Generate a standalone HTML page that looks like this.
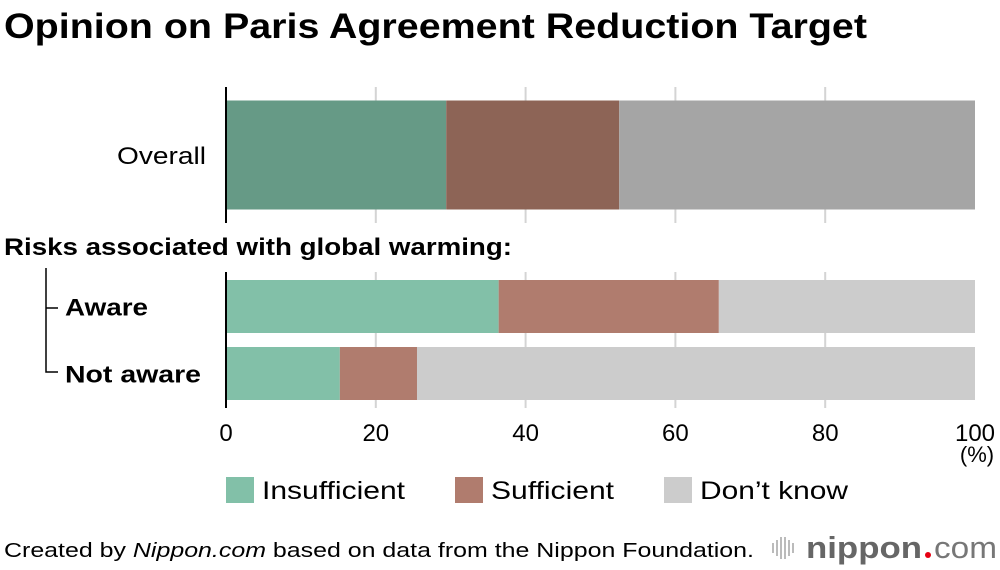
<!DOCTYPE html>
<html><head><meta charset="utf-8"><style>
body{margin:0;background:#fff;}
svg{display:block;font-family:"Liberation Sans",Arial,sans-serif;}
</style></head><body>
<svg id="chart" width="1000" height="570" viewBox="0 0 1000 570">
<text x="4" y="38" font-size="35" font-weight="bold" fill="#000" textLength="863" lengthAdjust="spacingAndGlyphs">Opinion on Paris Agreement Reduction Target</text>
<g id="grid"></g>
<g id="bars"></g>
<g id="labels"></g>
<text x="4" y="255" font-size="24" font-weight="bold" textLength="508" lengthAdjust="spacingAndGlyphs">Risks associated with global warming:</text>
<path d="M46 268 V372 H58 M46 308 H58" stroke="#000" stroke-width="1.5" fill="none"/>
<text x="977" y="462" font-size="22" text-anchor="middle">(%)</text>
<g>
<rect x="226" y="477" width="28" height="26" fill="#82c0a8"/>
<text x="262" y="499" font-size="25" textLength="143" lengthAdjust="spacingAndGlyphs">Insufficient</text>
<rect x="455" y="477" width="28" height="26" fill="#b07c6e"/>
<text x="491" y="499" font-size="25" textLength="123" lengthAdjust="spacingAndGlyphs">Sufficient</text>
<rect x="664" y="477" width="28" height="26" fill="#cccccc"/>
<text x="700" y="499" font-size="25" textLength="148" lengthAdjust="spacingAndGlyphs">Don’t know</text>
</g>
<text x="4" y="557" font-size="20" textLength="750" lengthAdjust="spacingAndGlyphs">Created by <tspan font-style="italic">Nippon.com</tspan> based on data from the Nippon Foundation.</text>
<g>
<g stroke="#bbb" stroke-width="2">
<line x1="773" y1="543" x2="773" y2="553"/><line x1="777" y1="540" x2="777" y2="556"/><line x1="781" y1="537" x2="781" y2="559"/><line x1="785" y1="537" x2="785" y2="559"/><line x1="789" y1="540" x2="789" y2="556"/><line x1="793" y1="543" x2="793" y2="553"/>
</g>
<text x="806" y="558" font-size="31" font-weight="bold" fill="#666" textLength="116" lengthAdjust="spacingAndGlyphs">nippon</text>
<circle cx="928" cy="555" r="3" fill="#e60012"/>
<text x="934" y="558" font-size="31" fill="#777" textLength="63" lengthAdjust="spacingAndGlyphs">com</text>
</g>
</svg>
<script>
const categories = ["Overall", "Aware", "Not aware"];
const insufficient = [29.4, 36.4, 15.2];
const sufficient = [23.1, 29.4, 10.3];
const dontKnow = [47.5, 34.2, 74.5];
const ticks = [0, 20, 40, 60, 80, 100];

const NS = "http://www.w3.org/2000/svg";
const x = v => 226 + v * 7.49;
const rowsY = [[100.5, 109], [280, 53], [347, 53]];
const labelLen = [89, 83, 136];
const colors = [["#669a86","#8d6456","#a5a5a5"],["#82c0a8","#b07c6e","#cccccc"],["#82c0a8","#b07c6e","#cccccc"]];
const grid = document.getElementById("grid"), bars = document.getElementById("bars"), labels = document.getElementById("labels");
function mk(tag, attrs, parent){const e=document.createElementNS(NS,tag);for(const k in attrs)e.setAttribute(k,attrs[k]);parent.appendChild(e);return e;}
ticks.forEach(t=>{
  if(t>0 && t<100){
    const g1=mk("line",{x1:x(t),x2:x(t),y1:87,y2:223,stroke:"#d4d4d4","stroke-width":2},grid);
    
    
    const g2=mk("line",{x1:x(t),x2:x(t),y1:272,y2:408,stroke:"#d4d4d4","stroke-width":2},grid);
    
    
  }
  const tl=mk("text",{x:x(t),y:441,"font-size":24,"text-anchor":"middle"},labels);
  tl.textContent=t;
  
  
});
categories.forEach((c,i)=>{
  const vals=[insufficient[i],sufficient[i],dontKnow[i]];
  let acc=0;
  vals.forEach((v,j)=>{
    const r=mk("rect",{x:x(acc),y:rowsY[i][0],width:x(acc+v)-x(acc),height:rowsY[i][1],fill:colors[i][j]},bars);
    
    
    acc+=v;
  });
  const l=mk("text",{x:i==0?117:65,y:rowsY[i][0]+rowsY[i][1]/2+9,"font-size":24,"font-weight":i==0?"normal":"bold",textLength:labelLen[i],lengthAdjust:"spacingAndGlyphs"},labels);
  l.textContent=c;
  
  
});
const a1=mk("line",{x1:226,x2:226,y1:87,y2:223,stroke:"#000","stroke-width":2},bars);


const a2=mk("line",{x1:226,x2:226,y1:272,y2:408,stroke:"#000","stroke-width":2},bars);


</script>
</body></html>
